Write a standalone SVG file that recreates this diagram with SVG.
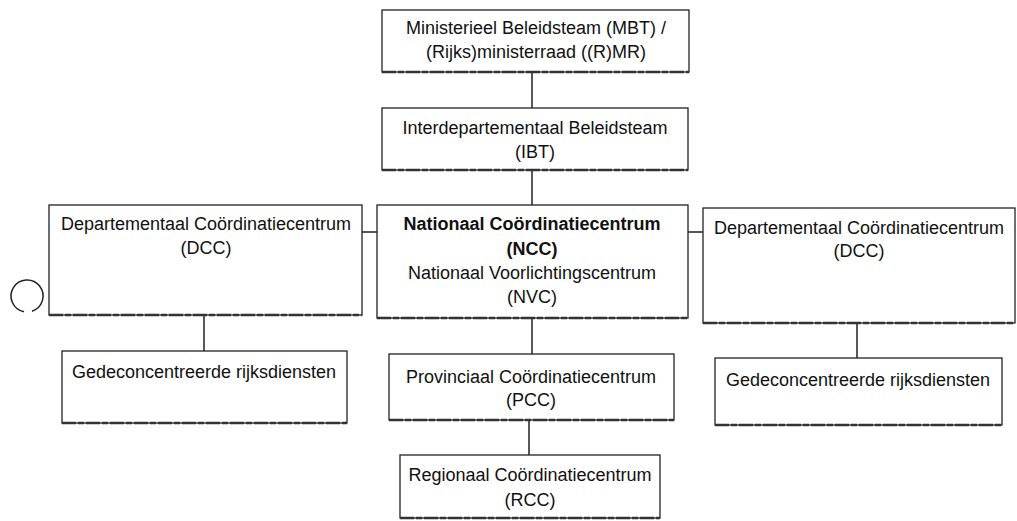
<svg xmlns="http://www.w3.org/2000/svg" width="1017" height="521" viewBox="0 0 1017 521">
<style>
.box{fill:#fff;stroke:#222;stroke-width:1.3}
.base{stroke:#333;stroke-width:2.4;stroke-dasharray:14 2 6 2}
.t{font-family:"Liberation Sans",Arial,sans-serif;font-size:18px;fill:#111;text-anchor:middle}
.b{font-weight:bold}
.c{stroke:#111;stroke-width:1.4;fill:none}
</style>
<rect width="1017" height="521" fill="#fff"/>
<g id="connectors">
<line class="c" x1="532" y1="72" x2="532" y2="108"/>
<line class="c" x1="532" y1="170" x2="532" y2="205"/>
<line class="c" x1="362" y1="232" x2="377" y2="232"/>
<line class="c" x1="688" y1="232" x2="703" y2="232"/>
<line class="c" x1="204" y1="315" x2="204" y2="351"/>
<line class="c" x1="532" y1="318" x2="532" y2="354"/>
<line class="c" x1="529" y1="420" x2="529" y2="455"/>
<line class="c" x1="857" y1="323" x2="857" y2="358"/>
</g>
<g id="mbt">
<rect class="box" x="382" y="10" width="307" height="62"/>
<line class="base" x1="382" y1="72" x2="689" y2="72"/>
<text class="t" x="536" y="34">Ministerieel Beleidsteam (MBT) /</text>
<text class="t" x="536" y="58">(Rijks)ministerraad ((R)MR)</text>
</g>
<g id="ibt">
<rect class="box" x="382" y="108" width="306" height="62"/>
<line class="base" x1="382" y1="170" x2="688" y2="170"/>
<text class="t" x="535" y="134">Interdepartementaal Beleidsteam</text>
<text class="t" x="535" y="158">(IBT)</text>
</g>
<g id="dcc-left">
<rect class="box" x="49" y="205" width="313" height="110"/>
<line class="base" x1="49" y1="315" x2="362" y2="315"/>
<text class="t" x="206" y="230">Departementaal Coördinatiecentrum</text>
<text class="t" x="206" y="254">(DCC)</text>
</g>
<g id="ncc">
<rect class="box" x="377" y="205" width="311" height="113"/>
<line class="base" x1="377" y1="318" x2="688" y2="318"/>
<text class="t b" x="532" y="230">Nationaal Coördinatiecentrum</text>
<text class="t b" x="532" y="255">(NCC)</text>
<text class="t" x="532" y="279">Nationaal Voorlichtingscentrum</text>
<text class="t" x="532" y="303">(NVC)</text>
</g>
<g id="dcc-right">
<rect class="box" x="703" y="208" width="312" height="115"/>
<line class="base" x1="703" y1="323" x2="1015" y2="323"/>
<text class="t" x="859" y="234">Departementaal Coördinatiecentrum</text>
<text class="t" x="859" y="257">(DCC)</text>
</g>
<g id="circle">
<path d="M 32 311.2 A 16 16 0 1 0 24 311.7" fill="none" stroke="#222" stroke-width="1.5"/>
</g>
<g id="gdr-left">
<rect class="box" x="62" y="351" width="285" height="72"/>
<line class="base" x1="62" y1="423" x2="347" y2="423"/>
<text class="t" x="204" y="378">Gedeconcentreerde rijksdiensten</text>
</g>
<g id="pcc">
<rect class="box" x="389" y="354" width="285" height="66"/>
<line class="base" x1="389" y1="420" x2="674" y2="420"/>
<text class="t" x="531" y="383">Provinciaal Coördinatiecentrum</text>
<text class="t" x="531" y="406">(PCC)</text>
</g>
<g id="rcc">
<rect class="box" x="400" y="455" width="260" height="63"/>
<line class="base" x1="400" y1="518" x2="660" y2="518"/>
<text class="t" x="530" y="481">Regionaal Coördinatiecentrum</text>
<text class="t" x="530" y="506">(RCC)</text>
</g>
<g id="gdr-right">
<rect class="box" x="715" y="358" width="287" height="67"/>
<line class="base" x1="715" y1="425" x2="1002" y2="425"/>
<text class="t" x="858" y="386">Gedeconcentreerde rijksdiensten</text>
</g>
</svg>
